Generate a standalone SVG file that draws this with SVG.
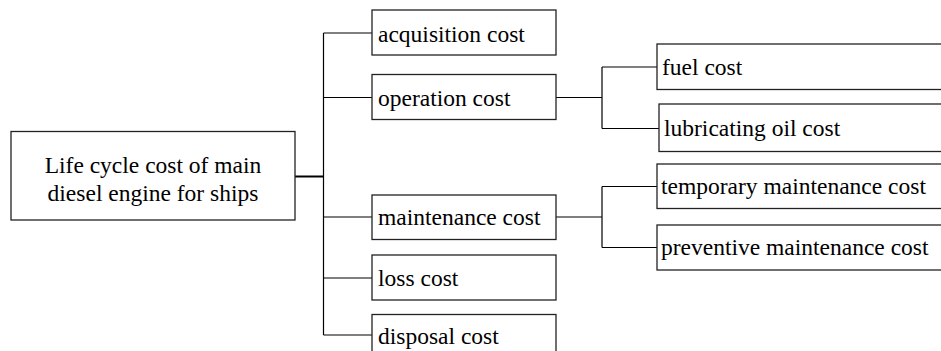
<svg xmlns="http://www.w3.org/2000/svg" width="941" height="351" viewBox="0 0 941 351">
<style>
.box{fill:#fff;stroke:#222;stroke-width:1.3}
.t{font-size:23.5px;fill:#000}
.c{fill:none;stroke:#000;stroke-width:1.2}
</style>
<rect width="941" height="351" fill="#fff"/>
<g id="connectors">
<path class="c" d="M323.5,33V335M323.5,33H372M323.5,97.5H372M323.5,217H372M323.5,278H372M323.5,335H372" />
<path class="c" d="M295,176.5H323.5" style="stroke-width:2"/>
<path class="c" d="M556,97.5H602M602,67V128.5M602,67H657M602,128.5H659"/>
<path class="c" d="M556,217H602M602,186.5V247.5M602,186.5H657M602,247.5H657"/>
</g>
<g font-family="'Liberation Serif', 'Times New Roman', Times, 'DejaVu Serif', serif">
<g id="root">
<rect class="box" x="11" y="131.5" width="284" height="88.5"/>
<text class="t" x="153" y="173" text-anchor="middle">Life cycle cost of main</text>
<text class="t" x="153" y="201" text-anchor="middle">diesel engine for ships</text>
</g>
<g id="acquisition">
<rect class="box" x="372" y="10" width="184" height="45"/>
<text class="t" x="378" y="42">acquisition cost</text>
</g>
<g id="operation">
<rect class="box" x="372" y="74.5" width="184" height="45"/>
<text class="t" x="378" y="105.5">operation cost</text>
</g>
<g id="maintenance">
<rect class="box" x="372" y="195" width="184" height="44.5"/>
<text class="t" x="378" y="225">maintenance cost</text>
</g>
<g id="loss">
<rect class="box" x="372" y="255" width="184" height="45"/>
<text class="t" x="378" y="285.5">loss cost</text>
</g>
<g id="disposal">
<rect class="box" x="372" y="314.5" width="184" height="45"/>
<text class="t" x="378" y="344">disposal cost</text>
</g>
<g id="fuel">
<rect class="box" x="657" y="44" width="290" height="45.5"/>
<text class="t" x="662" y="75">fuel cost</text>
</g>
<g id="lubricating">
<rect class="box" x="659" y="104" width="290" height="47.5"/>
<text class="t" x="664" y="136">lubricating oil cost</text>
</g>
<g id="temporary">
<rect class="box" x="657" y="164" width="290" height="44.5"/>
<text class="t" x="661" y="194">temporary maintenance cost</text>
</g>
<g id="preventive">
<rect class="box" x="657" y="225" width="290" height="45"/>
<text class="t" x="661" y="255">preventive maintenance cost</text>
</g>
</g>
</svg>
